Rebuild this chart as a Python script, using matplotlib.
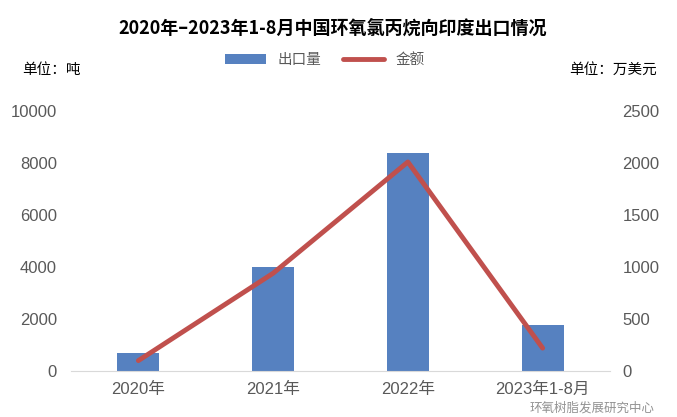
import numpy as np
import matplotlib
matplotlib.use('Agg')
import matplotlib.pyplot as plt

plt.rcParams['font.family'] = ['Liberation Sans', 'Noto Sans CJK SC', 'DejaVu Sans']

# data
categories = ['2020年', '2021年', '2022年', '2023年1-8月']
volume = [700, 4000, 8370, 1770]      # 出口量, 吨
value = [100, 940, 2010, 220]         # 金额, 万美元

fig = plt.figure(figsize=(6.77, 4.17), dpi=100)
ax = fig.add_axes([71/677, 1-371/417, (610-71)/677, 260/417])
ax2 = ax.twinx()

x = np.arange(len(categories))
ax.bar(x, volume, width=0.31, color='#5681C0', label='出口量', zorder=2)
ax2.plot(x, value, color='#C0504D', lw=3.5, solid_capstyle='round',
         label='金额', zorder=3)

ax.set_xlim(-0.5, len(categories) - 0.5)
ax.set_ylim(0, 10000)
ax2.set_ylim(0, 2500)
ax.set_yticks(np.arange(0, 10001, 2000))
ax2.set_yticks(np.arange(0, 2501, 500))
ax.set_xticks(x)
ax.set_xticklabels(categories)

for a in (ax, ax2):
    for s in a.spines.values():
        s.set_visible(False)
    a.tick_params(length=0, labelsize=12, colors='#595959')
ax.spines['bottom'].set_visible(True)
ax.spines['bottom'].set_color('#D9D9D9')
ax.tick_params(axis='x', pad=8)
ax.tick_params(axis='y', pad=10)
ax2.tick_params(axis='y', pad=9)

fig.text(0.492, 1-28/417, '2020年–2023年1-8月中国环氧氯丙烷向印度出口情况',
         ha='center', va='center', fontsize=13, fontweight='bold',
         family=['Noto Sans CJK SC', 'DejaVu Sans'])
fig.text(22/677, 1-70/417, '单位：吨', ha='left', va='center', fontsize=10.5,
         family=['Noto Sans CJK SC'])
fig.text(1-20/677, 1-70/417, '单位：万美元', ha='right', va='center',
         fontsize=10.5, family=['Noto Sans CJK SC'])

h1, l1 = ax.get_legend_handles_labels()
h2, l2 = ax2.get_legend_handles_labels()
fig.legend(h1 + h2, l1 + l2, loc='center', bbox_to_anchor=(0.48, 1-60/417),
           ncol=2, frameon=False, handlelength=2.8, columnspacing=1.5,
           labelcolor='#595959',
           prop={'family': 'Noto Sans CJK SC', 'size': 10.5})

fig.text(1-22/677, 1-408/417, '环氧树脂发展研究中心', ha='right', va='center',
         fontsize=9, color='#777777', alpha=0.8,
         family=['Noto Sans CJK SC'])

fig.savefig('out.png', dpi=100)
